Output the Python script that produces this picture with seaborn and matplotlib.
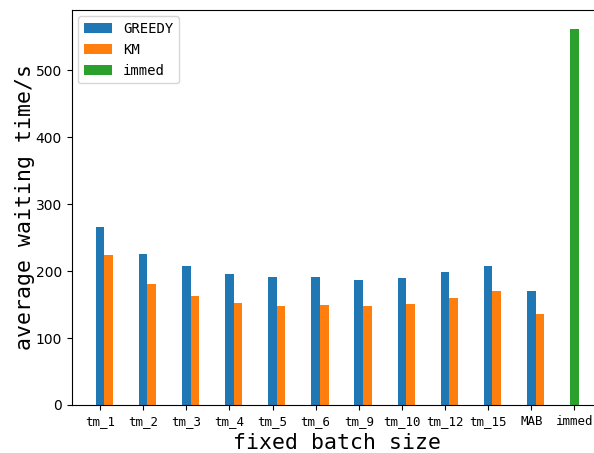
import matplotlib
matplotlib.use("Agg")
import matplotlib.pyplot as plt
import seaborn as sns
import numpy as np

categories = ["tm_1", "tm_2", "tm_3", "tm_4", "tm_5", "tm_6", "tm_9", "tm_10",
              "tm_12", "tm_15", "MAB", "immed"]
greedy = [266, 226, 208, 196, 191, 191, 187, 190, 199, 208, 170]
km = [224, 181, 163, 153, 148, 149, 148, 151, 160, 170, 136]
immed = [562]

mono = "DejaVu Sans Mono"

fig = plt.figure(figsize=(5.94, 4.53), dpi=100)
ax = fig.add_axes([0.1204, 0.106, 0.8946, 0.873])

pos_g = np.arange(len(greedy), dtype=float)
pos_k = pos_g + 0.2
pos_i = np.array([float(len(categories) - 1)])

sns.barplot(x=pos_g, y=greedy, native_scale=True, width=0.2, color="#1f77b4",
            saturation=1, linewidth=0, label="GREEDY", ax=ax)
sns.barplot(x=pos_k, y=km, native_scale=True, width=0.2, color="#ff7f0e",
            saturation=1, linewidth=0, label="KM", ax=ax)
sns.barplot(x=pos_i, y=immed, native_scale=True, width=0.2, color="#2ca02c",
            saturation=1, linewidth=0, label="immed", ax=ax)

ax.set_xticks(np.arange(len(categories)))
ax.set_xticklabels(categories, fontfamily=mono, fontsize=9)
ax.set_xlim(-0.66, 11.66)
ax.set_ylim(0, 591)
ax.set_yticks([0, 100, 200, 300, 400, 500])
ax.tick_params(axis="y", labelsize=10)
ax.spines["right"].set_visible(False)

ax.set_xlabel("fixed batch size", fontfamily=mono, fontsize=15.5)
ax.set_ylabel("average waiting time/s", fontfamily=mono, fontsize=15.5, labelpad=0)

ax.legend(loc="upper left", prop={"family": mono, "size": 10})

fig.savefig("out.png", dpi=100)
